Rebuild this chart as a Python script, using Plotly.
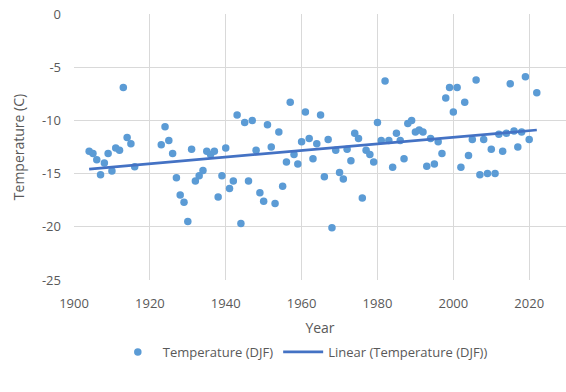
import numpy as np
import plotly.graph_objects as go

# Winter (DJF) mean temperature by year
years = [
    1904, 1905, 1906, 1907, 1908, 1909, 1910, 1911, 1912, 1913, 1914, 1915, 1916,
    1923, 1924, 1925, 1926, 1927, 1928, 1929, 1930, 1931, 1932, 1933, 1934, 1935,
    1936, 1937, 1938, 1939, 1940, 1941, 1942, 1943, 1944, 1945, 1946, 1947, 1948,
    1949, 1950, 1951, 1952, 1953, 1954, 1955, 1956, 1957, 1958, 1959, 1960, 1961,
    1962, 1963, 1964, 1965, 1966, 1967, 1968, 1969, 1970, 1971, 1972, 1973, 1974,
    1975, 1976, 1977, 1978, 1979, 1980, 1981, 1982, 1983, 1984, 1985, 1986, 1987,
    1988, 1989, 1990, 1991, 1992, 1993, 1994, 1995, 1996, 1997, 1998, 1999, 2000,
    2001, 2002, 2003, 2004, 2005, 2006, 2007, 2008, 2009, 2010, 2011, 2012, 2013,
    2014, 2015, 2016, 2017, 2018, 2019, 2020, 2022,
]
temps = [
    -12.9, -13.1, -13.7, -15.1, -14.0, -13.1, -14.75, -12.6, -12.8, -6.9, -11.6, -12.2, -14.35,
    -12.3, -10.6, -11.9, -13.1, -15.4, -17.0, -17.7, -19.5, -12.7, -15.7, -15.2, -14.7, -12.9,
    -13.2, -12.9, -17.2, -15.2, -12.6, -16.4, -15.7, -9.5, -19.7, -10.2, -15.7, -10.0, -12.8,
    -16.8, -17.6, -10.4, -12.5, -17.8, -11.1, -16.2, -13.9, -8.3, -13.2, -14.1, -12.0, -9.2,
    -11.7, -13.6, -12.2, -9.5, -15.3, -11.8, -20.1, -12.8, -14.9, -15.5, -12.7, -13.8, -11.2,
    -11.7, -17.3, -12.8, -13.2, -13.9, -10.2, -11.9, -6.3, -11.9, -14.4, -11.2, -11.9, -13.6,
    -10.3, -10.0, -11.1, -10.9, -11.1, -14.3, -11.7, -14.1, -12.0, -13.1, -7.9, -6.9, -9.2,
    -6.9, -14.4, -8.3, -13.3, -11.8, -6.2, -15.1, -11.8, -15.0, -12.7, -15.0, -11.3, -12.9,
    -11.2, -6.55, -11.0, -12.5, -11.1, -5.9, -11.8, -7.4,
]

x_ticks = [1900, 1920, 1940, 1960, 1980, 2000, 2020]
y_ticks = [0, -5, -10, -15, -20, -25]

# Least-squares linear trend over the observed years
slope, intercept = np.polyfit(years, temps, 1)
trend_x = [min(years), max(years)]
trend_y = [slope * x + intercept for x in trend_x]

font_family = "Open Sans, Liberation Sans, sans-serif"
text_grey = "#595959"
grid_grey = "#D9D9D9"

fig = go.Figure()
fig.add_trace(go.Scatter(
    x=years, y=temps, mode="markers",
    name="Temperature (DJF)",
    marker=dict(size=7.5, color="#5B9BD5"),
))
fig.add_trace(go.Scatter(
    x=trend_x, y=trend_y, mode="lines",
    name="Linear (Temperature (DJF))",
    line=dict(color="#4472C4", width=2.75),
))

fig.update_layout(
    width=566, height=392,
    margin=dict(l=74, r=0, t=14, b=112),
    paper_bgcolor="white", plot_bgcolor="white",
    font=dict(family=font_family, size=13, color=text_grey),
    showlegend=True,
    legend=dict(
        orientation="h", xref="container", yref="container",
        x=0.535, xanchor="center", y=0.102, yanchor="middle",
        font=dict(size=13, color=text_grey),
        itemwidth=40,
        bgcolor="rgba(0,0,0,0)",
    ),
)
fig.update_xaxes(
    range=[1900, 2029.7],
    tickvals=x_ticks, ticktext=[str(v) for v in x_ticks],
    showgrid=True, gridcolor=grid_grey, gridwidth=1,
    zeroline=False, showline=False, ticks="",
    ticklabelstandoff=14,
    title=dict(text="Year", font=dict(size=14, color=text_grey), standoff=12),
)
fig.update_yaxes(
    range=[-25, 0],
    tickvals=y_ticks, ticktext=[str(v) for v in y_ticks],
    showgrid=True, gridcolor=grid_grey, gridwidth=1,
    zeroline=False, showline=False, ticks="",
    ticklabelstandoff=12,
    title=dict(text="Temperature (C)", font=dict(size=14, color=text_grey), standoff=14),
)

fig.write_html("out.html")
